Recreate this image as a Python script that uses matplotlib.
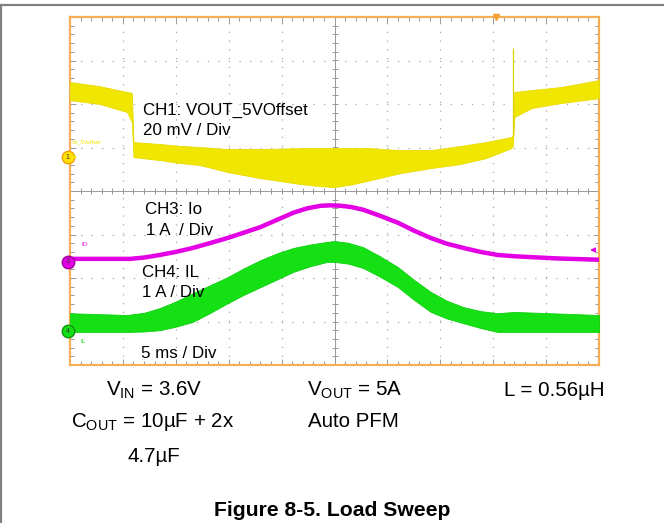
import matplotlib
matplotlib.use("Agg")
import matplotlib.pyplot as plt
import numpy as np

plt.rcParams['font.family'] = ['Liberation Sans', 'DejaVu Sans']
plt.rcParams['mathtext.fontset'] = 'custom'
plt.rcParams['mathtext.rm'] = 'Liberation Sans'
plt.rcParams['mathtext.it'] = 'Liberation Sans'

# ---------------- data ----------------
# time in ms (5 ms / div, 10 divisions)
ch1_t     = [0.0, 2.8, 5.4, 5.85, 6.0, 8.5, 10.0, 12.3, 14.9, 18.0, 21.8, 23.4, 25.0, 26.7, 28.4, 31.2, 34.1, 36.9, 39.3, 41.7, 41.85, 42.0, 43.6, 46.4, 50.0]
ch1_upper = [34.5, 32.6, 29.9, 29.5, 6.9, 6.0, 5.3, 4.6, 3.7, 3.7, 4.1, 4.1, 4.1, 4.1, 4.1, 3.2, 3.2, 5.1, 6.9, 9.2, 10.0, 29.9, 30.8, 32.2, 35.4]   # mV
ch1_lower = [26.2, 24.4, 20.7, 16.0, 0.0, -1.4, -2.5, -3.7, -6.9, -9.7, -12.4, -13.3, -13.8, -12.5, -10.6, -7.4, -5.1, -3.2, -0.5, 4.1, 5.0, 18.4, 22.5, 24.8, 27.1]  # mV
ch1_spike_t = [41.85]
ch1_spike_lo = [10.0]
ch1_spike_hi = [50.0]

ch3_t  = [0.0, 5.7, 7.0, 8.5, 10.0, 11.6, 13.2, 14.9, 16.4, 18.0, 19.6, 21.1, 22.4, 23.7, 24.6, 25.6, 26.6, 27.7, 29.3, 31.0, 32.5, 34.1, 35.6, 37.2, 38.8, 40.4, 42.0, 43.6, 46.0, 50.0]
ch3_io = [0.07, 0.07, 0.10, 0.16, 0.23, 0.32, 0.43, 0.55, 0.67, 0.80, 0.97, 1.13, 1.23, 1.29, 1.30, 1.29, 1.26, 1.20, 1.06, 0.90, 0.72, 0.55, 0.42, 0.32, 0.23, 0.16, 0.13, 0.11, 0.08, 0.05]  # A

ch4_t     = [0.0, 5.4, 7.0, 8.5, 10.0, 11.6, 13.2, 14.9, 16.4, 18.0, 19.6, 21.1, 22.7, 24.3, 25.0, 26.3, 27.7, 29.3, 31.0, 32.5, 34.1, 35.6, 37.2, 38.8, 40.4, 42.0, 50.0]
ch4_upper = [0.41, 0.37, 0.42, 0.53, 0.68, 0.87, 1.05, 1.24, 1.44, 1.63, 1.79, 1.91, 1.99, 2.05, 2.07, 2.03, 1.93, 1.72, 1.47, 1.18, 0.90, 0.70, 0.55, 0.46, 0.41, 0.44, 0.37]  # A
ch4_lower = [-0.02, -0.02, -0.01, 0.02, 0.10, 0.21, 0.41, 0.64, 0.83, 1.01, 1.19, 1.36, 1.49, 1.59, 1.59, 1.55, 1.45, 1.25, 1.01, 0.72, 0.44, 0.29, 0.18, 0.07, -0.02, -0.02, -0.02]  # A

ms_per_div = 5.0
ch1_mv_per_div = 20.0
ch3_a_per_div = 1.0
ch4_a_per_div = 1.0
ch1_ref, ch3_ref, ch4_ref = 0.78, -1.63, -3.22   # ground positions in divisions
trigger_t = 40.3

YELLOW = '#F0E600'
MAGENTA = '#E400E4'
GREEN = '#14E014'
ORANGE = '#F5AE55'
GRID = '#A8A8A8'

fig = plt.figure(figsize=(6.64, 5.23), dpi=100)
W, H = 664, 523
ax = fig.add_axes([70 / W, 1 - 365 / H, 529 / W, 348 / H])
ax.set_xlim(0, 10)
ax.set_ylim(-4, 4)

def tdiv(t):
    return np.asarray(t) / ms_per_div

# grid (dotted)
for i in range(1, 10):
    if i != 5:
        ax.axvline(i, color=GRID, lw=0.9, linestyle=(0, (1, 6.0)), zorder=1)
for j in range(-3, 4):
    if j != 0:
        ax.axhline(j, color=GRID, lw=0.9, linestyle=(0, (1, 7.45)), zorder=1)
# center cross with ticks
ax.axhline(0, color='#999999', lw=0.7, zorder=1)
ax.axvline(5, color='#999999', lw=0.7, zorder=1)
mx = np.arange(0, 10.01, 0.2)
my = np.arange(-4, 4.01, 0.2)
ax.plot(mx, np.zeros_like(mx), linestyle='none', marker='|', ms=4, mew=0.7, color='#999999', zorder=1)
ax.plot(np.full_like(my, 5), my, linestyle='none', marker='_', ms=4, mew=0.7, color='#999999', zorder=1)

# frame ticks
ax.set_xticks(np.arange(0, 11, 1))
ax.set_yticks(np.arange(-4, 5, 1))
ax.set_xticks(mx, minor=True)
ax.set_yticks(my, minor=True)
ax.tick_params(which='both', direction='in', top=True, right=True, bottom=True, left=True,
               labelbottom=False, labelleft=False, color='#999999', width=0.7)
ax.tick_params(which='major', length=4)
ax.tick_params(which='minor', length=3)
for s in ax.spines.values():
    s.set_color(ORANGE)
    s.set_linewidth(1.6)

# CH1 band
y1u = np.asarray(ch1_upper) / ch1_mv_per_div + ch1_ref
y1l = np.asarray(ch1_lower) / ch1_mv_per_div + ch1_ref
ax.fill_between(tdiv(ch1_t), y1l, y1u, color=YELLOW, lw=0.6, edgecolor='#E8DC00', zorder=3)
ax.vlines(tdiv(ch1_spike_t), np.asarray(ch1_spike_lo) / ch1_mv_per_div + ch1_ref,
          np.asarray(ch1_spike_hi) / ch1_mv_per_div + ch1_ref, color='#E0D200', lw=0.9, zorder=3)

# CH3 line
ax.plot(tdiv(ch3_t), np.asarray(ch3_io) / ch3_a_per_div + ch3_ref, color=MAGENTA, lw=3.2,
        solid_capstyle='butt', solid_joinstyle='round', zorder=4)

# CH4 band
y4u = np.asarray(ch4_upper) / ch4_a_per_div + ch4_ref
y4l = np.asarray(ch4_lower) / ch4_a_per_div + ch4_ref
ax.fill_between(tdiv(ch4_t), y4l, y4u, color=GREEN, lw=0.6, edgecolor='#10D010', zorder=3)

# channel markers on the left edge
for ref, fc, ec, lab in [(ch1_ref, '#FFE000', '#F0A000', '1'),
                         (ch3_ref, MAGENTA, '#A000A0', '3'),
                         (ch4_ref, GREEN, '#109010', '4')]:
    ax.plot([-0.04], [ref], marker='o', ms=9, mfc=fc, mec=ec, mew=1.0, clip_on=False, zorder=6)
    ax.text(-0.04, ref, lab, fontsize=5, ha='center', va='center', color='#333333', clip_on=False, zorder=7)
ax.annotate('', xy=(0.18, ch1_ref), xytext=(0.05, ch1_ref),
            arrowprops=dict(arrowstyle='-|>', color=YELLOW, lw=0.8, mutation_scale=6), zorder=6)
ax.text(0.04, ch1_ref + 0.36, 'Vo_5Voffset', fontsize=4, color=YELLOW, ha='left', va='center')
ax.text(0.22, ch3_ref + 0.4, 'IO', fontsize=4.5, color=MAGENTA, ha='left', va='center')
ax.text(0.19, ch4_ref - 0.25, 'IL', fontsize=4.5, color=GREEN, ha='left', va='center')

# trigger marker and level arrow
ax.plot([tdiv(trigger_t)], [4.0], marker='v', ms=5, color='#F5A030', clip_on=False, zorder=6)
ax.annotate('', xy=(9.78, -1.356), xytext=(9.99, -1.356),
            arrowprops=dict(arrowstyle='-|>', color=MAGENTA, lw=0.9, mutation_scale=7), zorder=6)

# scope annotations (pixel positions -> figure coords)
def ftext(x, y, s, **kw):
    fig.text(x / W, 1 - y / H, s, ha=kw.pop('ha', 'left'), va='baseline', **kw)

sfs = 12.2
ftext(143, 115, 'CH1: VOUT_5VOffset', fontsize=sfs)
ftext(143, 135, '20 mV / Div', fontsize=sfs)
ftext(145, 214, 'CH3: Io', fontsize=sfs)
ftext(146, 235, '1 A  / Div', fontsize=sfs)
ftext(142, 277, 'CH4: IL', fontsize=sfs)
ftext(142, 297, '1 A / Div', fontsize=sfs)
ftext(141, 358, '5 ms / Div', fontsize=sfs)

bfs = 14.8
ftext(106, 396, r'V$_{\mathrm{IN}}$ = 3.6V', fontsize=bfs)
ftext(307, 396, r'V$_{\mathrm{OUT}}$ = 5A', fontsize=bfs)
ftext(504, 396, 'L = 0.56µH', fontsize=bfs)
ftext(71, 427, r'C$_{\mathrm{OUT}}$ = 10µF + 2x', fontsize=bfs)
ftext(308, 427, 'Auto PFM', fontsize=bfs)
ftext(127, 462, '4.7µF', fontsize=bfs)
ftext(332, 516, 'Figure 8-5. Load Sweep', fontsize=15.2, fontweight='bold', ha='center')

# page border lines
fig.add_artist(plt.Line2D([0, 1], [1 - 5 / H, 1 - 5 / H], transform=fig.transFigure, color='#808080', lw=1.6))
fig.add_artist(plt.Line2D([1.2 / W, 1.2 / W], [0, 1 - 5 / H], transform=fig.transFigure, color='#808080', lw=1.6))

fig.savefig('out.png', dpi=100)
